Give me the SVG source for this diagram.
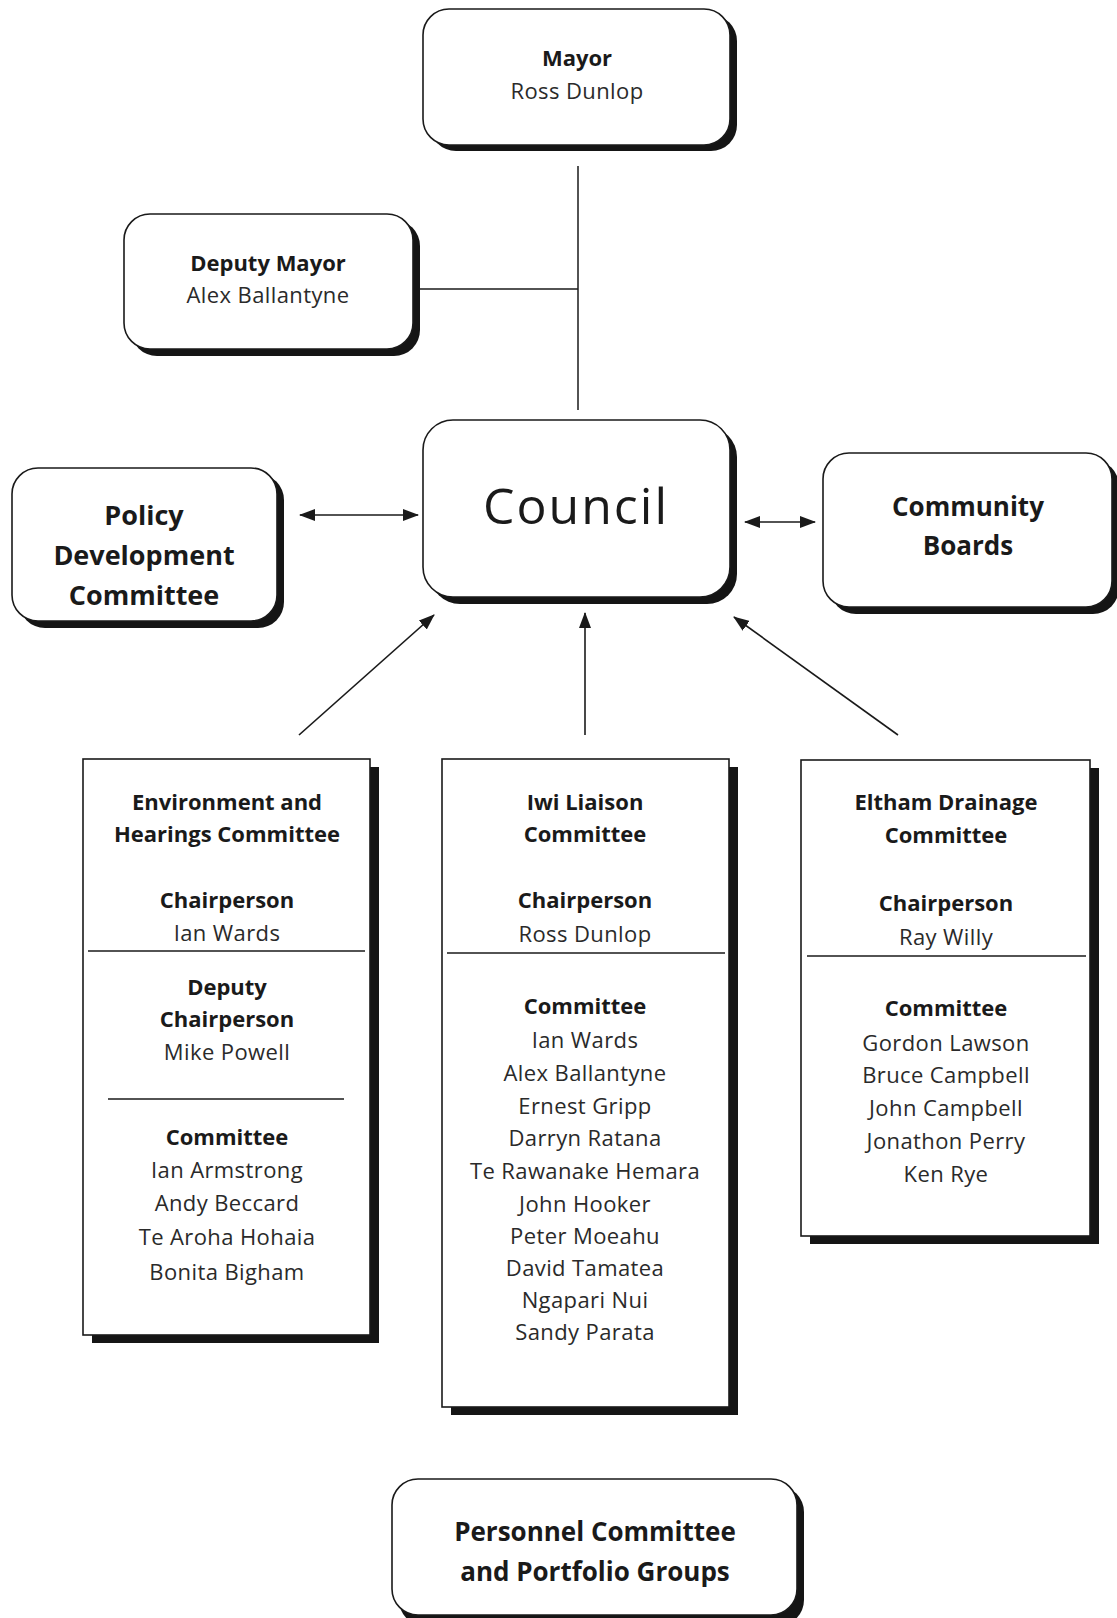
<svg xmlns="http://www.w3.org/2000/svg" width="1117" height="1618" viewBox="0 0 1117 1618">
<style>
.bg{fill:#fff}
.sh{fill:#151515}
.box{fill:#fff;stroke:#1a1a1a;stroke-width:1.6}
.t{font-family:"Open Sans","Liberation Sans",sans-serif;text-anchor:middle;fill:#2a2a2a;font-size:22px;letter-spacing:0.4px}
.b{font-weight:bold;fill:#1a1a1a;letter-spacing:0}
.big{font-size:27px}
.mid{font-size:26px}
.council{font-size:50px;letter-spacing:2px;fill:#1a1a1a}
.ln{stroke:#1a1a1a;stroke-width:1.5;fill:none}
.ar{stroke:#1a1a1a;stroke-width:1.6;fill:none}
</style>
<defs>
<marker id="ah" viewBox="0 0 16 12" refX="15" refY="6" markerWidth="16" markerHeight="12" markerUnits="userSpaceOnUse" orient="auto-start-reverse">
<path d="M0,0 L16,6 L0,12 Z" fill="#1a1a1a"/>
</marker>
</defs>
<rect class="bg" x="0" y="0" width="1117" height="1618"/>

<g id="connectors">
<line class="ln" x1="578" y1="166" x2="578" y2="410"/>
<line class="ln" x1="420" y1="289" x2="578" y2="289"/>
<line class="ar" x1="300" y1="515" x2="418" y2="515" marker-start="url(#ah)" marker-end="url(#ah)"/>
<line class="ar" x1="745" y1="522" x2="815" y2="522" marker-start="url(#ah)" marker-end="url(#ah)"/>
<line class="ar" x1="299" y1="735" x2="434" y2="615" marker-end="url(#ah)"/>
<line class="ar" x1="585" y1="735" x2="585" y2="613" marker-end="url(#ah)"/>
<line class="ar" x1="898" y1="735" x2="734" y2="617" marker-end="url(#ah)"/>
</g>

<g id="mayor">
<rect class="sh" x="430" y="15" width="307" height="136" rx="26"/>
<rect class="box" x="423" y="9" width="307" height="136" rx="26"/>
<text class="t b" x="577" y="66">Mayor</text>
<text class="t" x="577" y="99">Ross Dunlop</text>
</g>

<g id="deputy-mayor">
<rect class="sh" x="131" y="220" width="289" height="136" rx="26"/>
<rect class="box" x="124" y="214" width="289" height="135" rx="26"/>
<text class="t b" x="268" y="271">Deputy Mayor</text>
<text class="t" x="268" y="303">Alex Ballantyne</text>
</g>

<g id="council">
<rect class="sh" x="430" y="427" width="307" height="177" rx="30"/>
<rect class="box" x="423" y="420" width="307" height="177" rx="30"/>
<text class="t council" x="576" y="524">Council</text>
</g>

<g id="policy">
<rect class="sh" x="19" y="474" width="265" height="154" rx="26"/>
<rect class="box" x="12" y="468" width="265" height="153" rx="26"/>
<text class="t b big" x="144" y="525">Policy</text>
<text class="t b big" x="144" y="565">Development</text>
<text class="t b big" x="144" y="605">Committee</text>
</g>

<g id="community-boards">
<rect class="sh" x="830" y="460" width="289" height="154" rx="26"/>
<rect class="box" x="823" y="453" width="289" height="154" rx="26"/>
<text class="t b mid" x="968" y="516">Community</text>
<text class="t b mid" x="968" y="555">Boards</text>
</g>

<g id="environment-hearings">
<rect class="sh" x="92" y="767" width="287" height="576"/>
<rect class="box" x="83" y="759" width="287" height="576"/>
<text class="t b" x="227" y="810">Environment and</text>
<text class="t b" x="227" y="842">Hearings Committee</text>
<text class="t b" x="227" y="908">Chairperson</text>
<text class="t" x="227" y="941">Ian Wards</text>
<line class="ln" x1="88" y1="951" x2="365" y2="951"/>
<text class="t b" x="227" y="995">Deputy</text>
<text class="t b" x="227" y="1027">Chairperson</text>
<text class="t" x="227" y="1060">Mike Powell</text>
<line class="ln" x1="108" y1="1099" x2="344" y2="1099"/>
<text class="t b" x="227" y="1145">Committee</text>
<text class="t" x="227" y="1178">Ian Armstrong</text>
<text class="t" x="227" y="1211">Andy Beccard</text>
<text class="t" x="227" y="1245">Te Aroha Hohaia</text>
<text class="t" x="227" y="1280">Bonita Bigham</text>
</g>

<g id="iwi-liaison">
<rect class="sh" x="451" y="767" width="287" height="648"/>
<rect class="box" x="442" y="759" width="287" height="648"/>
<text class="t b" x="585" y="810">Iwi Liaison</text>
<text class="t b" x="585" y="842">Committee</text>
<text class="t b" x="585" y="908">Chairperson</text>
<text class="t" x="585" y="942">Ross Dunlop</text>
<line class="ln" x1="447" y1="953" x2="725" y2="953"/>
<text class="t b" x="585" y="1014">Committee</text>
<text class="t" x="585" y="1048">Ian Wards</text>
<text class="t" x="585" y="1081">Alex Ballantyne</text>
<text class="t" x="585" y="1114">Ernest Gripp</text>
<text class="t" x="585" y="1146">Darryn Ratana</text>
<text class="t" x="585" y="1179">Te Rawanake Hemara</text>
<text class="t" x="585" y="1212">John Hooker</text>
<text class="t" x="585" y="1244">Peter Moeahu</text>
<text class="t" x="585" y="1276">David Tamatea</text>
<text class="t" x="585" y="1308">Ngapari Nui</text>
<text class="t" x="585" y="1340">Sandy Parata</text>
</g>

<g id="eltham-drainage">
<rect class="sh" x="810" y="768" width="289" height="476"/>
<rect class="box" x="801" y="760" width="289" height="476"/>
<text class="t b" x="946" y="810">Eltham Drainage</text>
<text class="t b" x="946" y="843">Committee</text>
<text class="t b" x="946" y="911">Chairperson</text>
<text class="t" x="946" y="945">Ray Willy</text>
<line class="ln" x1="807" y1="956" x2="1086" y2="956"/>
<text class="t b" x="946" y="1016">Committee</text>
<text class="t" x="946" y="1051">Gordon Lawson</text>
<text class="t" x="946" y="1083">Bruce Campbell</text>
<text class="t" x="946" y="1116">John Campbell</text>
<text class="t" x="946" y="1149">Jonathon Perry</text>
<text class="t" x="946" y="1182">Ken Rye</text>
</g>

<g id="personnel">
<rect class="sh" x="399" y="1486" width="405" height="140" rx="26"/>
<rect class="box" x="392" y="1479" width="405" height="136" rx="26"/>
<text class="t b mid" x="595" y="1541">Personnel Committee</text>
<text class="t b mid" x="595" y="1581">and Portfolio Groups</text>
</g>
</svg>
